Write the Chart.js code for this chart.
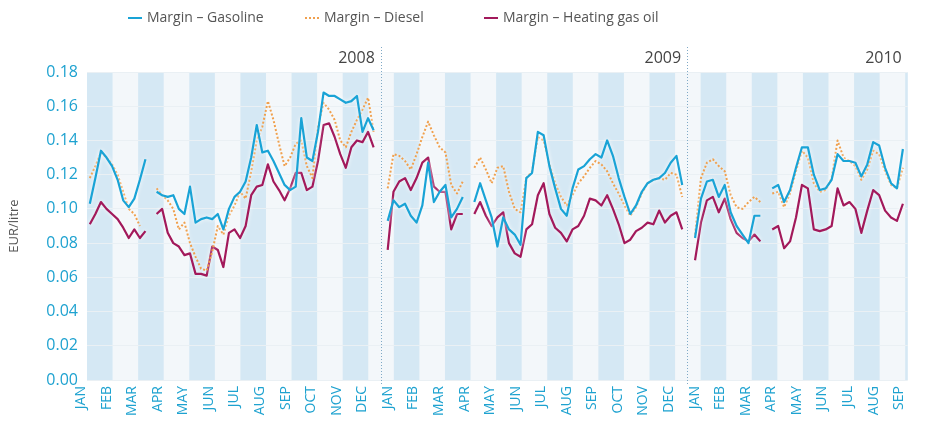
<!DOCTYPE html>
<html>
<head>
<meta charset="utf-8">
<script src="https://cdn.jsdelivr.net/npm/chart.js@4.4.1/dist/chart.umd.min.js"></script>
<style>
  body { margin: 0; background: #fff; }
  #chart { display: block; }
</style>
</head>
<body>
<canvas id="chart" width="928" height="431"></canvas>
<script>
/* month tick labels and year markers */
const months = ['JAN', 'FEB', 'MAR', 'APR', 'MAY', 'JUN', 'JUL', 'AUG', 'SEP', 'OCT', 'NOV', 'DEC'];
const years = ['2008', '2009', '2010'];
const seriesNames = ['Margin \u2013 Gasoline', 'Margin \u2013 Diesel', 'Margin \u2013 Heating gas oil'];
const yTicks = [0, 0.02, 0.04, 0.06, 0.08, 0.10, 0.12, 0.14, 0.16, 0.18];

/* weekly margins, EUR/litre (null = no quote) */
const gasoline2008 = [0.103,0.118,0.134,0.130,0.125,0.117,0.105,0.101,0.106,0.117,0.129,null,0.110,0.108,0.107,0.108,0.100,0.097,0.113,0.092,0.094,0.095,0.094,0.097,0.088,0.100,0.107,0.110,0.116,0.130,0.149,0.133,0.134,0.128,0.121,0.114,0.111,0.113,0.153,0.130,0.128,0.145,0.168,0.166,0.166,0.164,0.162,0.163,0.166,0.145,0.153,0.146];
const diesel2008 = [0.118,0.125,0.133,0.130,0.126,0.120,0.110,0.100,0.097,0.090,null,null,0.112,0.108,0.105,0.100,0.088,0.092,0.080,0.072,0.065,0.064,0.075,0.090,0.085,0.096,0.102,0.110,0.106,0.122,0.140,0.148,0.163,0.152,0.138,0.125,0.130,0.138,0.140,0.125,0.118,0.148,0.162,0.158,0.152,0.140,0.136,0.145,0.152,0.158,0.165,0.145];
const heating2008 = [0.091,0.097,0.104,0.100,0.097,0.094,0.089,0.083,0.088,0.083,0.087,null,0.097,0.100,0.086,0.080,0.078,0.073,0.074,0.062,0.062,0.061,0.078,0.076,0.066,0.086,0.088,0.083,0.090,0.108,0.113,0.114,0.126,0.116,0.111,0.105,0.112,0.121,0.121,0.111,0.113,0.128,0.149,0.150,0.142,0.132,0.124,0.136,0.140,0.139,0.145,0.136];

const gasoline2009 = [0.093,0.105,0.101,0.103,0.096,0.092,0.102,0.127,0.104,0.110,0.114,0.095,0.100,0.107,null,0.104,0.115,0.105,0.095,0.078,0.095,0.088,0.085,0.079,0.118,0.121,0.145,0.143,0.125,0.112,0.100,0.096,0.112,0.123,0.125,0.129,0.132,0.130,0.140,0.131,0.118,0.107,0.097,0.102,0.110,0.115,0.117,0.118,0.121,0.127,0.131,0.114];
const diesel2009 = [0.112,0.132,0.131,0.128,0.123,0.132,0.142,0.151,0.143,0.136,0.133,0.114,0.109,0.116,null,0.124,0.130,0.123,0.115,0.124,0.125,0.110,0.100,0.098,0.118,0.122,0.142,0.140,0.126,0.115,0.107,0.102,0.108,0.115,0.119,0.124,0.128,0.126,0.122,0.115,0.109,0.102,0.096,0.101,0.109,0.115,0.117,0.118,0.117,0.121,0.120,0.107];
const heating2009 = [0.076,0.110,0.116,0.118,0.111,0.118,0.127,0.130,0.113,0.110,0.110,0.088,0.097,0.097,null,0.097,0.104,0.096,0.090,0.095,0.098,0.080,0.074,0.072,0.088,0.091,0.108,0.115,0.097,0.089,0.086,0.081,0.088,0.090,0.096,0.106,0.105,0.102,0.108,0.100,0.091,0.080,0.082,0.087,0.089,0.092,0.091,0.099,0.092,0.096,0.098,0.088];

const gasoline2010 = [0.083,0.106,0.116,0.117,0.107,0.114,0.098,0.090,0.085,0.080,0.096,0.096,null,0.112,0.114,0.104,0.111,0.124,0.136,0.136,0.120,0.111,0.112,0.117,0.132,0.128,0.128,0.127,0.119,0.126,0.139,0.137,0.124,0.115,0.112,0.135];
const diesel2010 = [0.085,0.118,0.127,0.129,0.125,0.122,0.108,0.101,0.100,0.104,0.107,0.104,null,0.109,0.110,0.101,0.109,0.122,0.134,0.130,0.115,0.110,0.111,0.118,0.140,0.130,0.128,0.125,0.117,0.123,0.134,0.132,0.122,0.114,0.112,0.124];
const heating2010 = [0.070,0.092,0.105,0.107,0.098,0.106,0.094,0.086,0.083,0.081,0.085,0.081,null,0.088,0.090,0.077,0.081,0.095,0.114,0.112,0.088,0.087,0.088,0.090,0.112,0.102,0.104,0.100,0.086,0.099,0.111,0.108,0.099,0.095,0.093,0.103];

/* layout of the weekly points on the month axis (in months from JAN 2008) */
const yearSpan = [[0.11, 11.21], [11.76, 23.28], [23.78, 31.91]];
const yearDivider = [11.49, 23.47, 32.1];
const xMax = 32.1;

const colors = ['#19a3d6', '#f0a04e', '#a2195b'];

function buildPoints(perYear) {
    var pts = [];
    perYear.forEach(function (vals, k) {
        var a = yearSpan[k][0], b = yearSpan[k][1];
        var step = (b - a) / (vals.length - 1);
        vals.forEach(function (v, i) {
            pts.push({x: a + i * step, y: v});
        });
        pts.push({x: b + step / 2, y: null});
    });
    return pts;
}

/* light blue band on every other month */
const monthBands = {
    id: 'monthBands',
    beforeDraw: function (chart) {
        var ctx = chart.ctx, area = chart.chartArea, xs = chart.scales.x;
        ctx.save();
        ctx.fillStyle = '#f3f7fa';
        ctx.fillRect(area.left, area.top, area.right - area.left, area.bottom - area.top);
        ctx.fillStyle = '#d5e8f4';
        for (var m = 0; m <= Math.ceil(xMax); m += 2) {
            var x0 = Math.max(xs.getPixelForValue(m), area.left);
            var x1 = Math.min(xs.getPixelForValue(m + 1), area.right);
            if (x1 > x0) ctx.fillRect(x0, area.top, x1 - x0, area.bottom - area.top);
        }
        ctx.restore();
    }
};

/* dotted year separators + year labels */
const yearMarks = {
    id: 'yearMarks',
    beforeDatasetsDraw: function (chart) {
        var ctx = chart.ctx, area = chart.chartArea, xs = chart.scales.x;
        ctx.save();
        ctx.strokeStyle = '#7fa9c6';
        ctx.lineWidth = 1;
        ctx.setLineDash([1, 2]);
        for (var k = 0; k < yearDivider.length - 1; k++) {
            var x = Math.round(xs.getPixelForValue(yearDivider[k])) + 0.5;
            ctx.beginPath();
            ctx.moveTo(x, 47);
            ctx.lineTo(x, area.bottom + 4);
            ctx.stroke();
        }
        ctx.setLineDash([]);
        ctx.fillStyle = '#444';
        ctx.font = '16px "Open Sans"';
        ctx.textAlign = 'right';
        ctx.textBaseline = 'middle';
        years.forEach(function (y, k) {
            var x = Math.min(xs.getPixelForValue(yearDivider[k]), area.right) - 6;
            ctx.fillText(y, x, 58);
        });
        ctx.restore();
    },
    beforeDatasetDraw: function (chart) {
        chart.ctx.save();
        chart.ctx.shadowColor = 'rgba(255,255,255,0.95)';
        chart.ctx.shadowBlur = 4;
    },
    afterDatasetDraw: function (chart) {
        chart.ctx.restore();
    }
};

/* legend line at the top, placed like the print original */
const legendX = [128, 305, 484];
const topLegend = {
    id: 'topLegend',
    afterDraw: function (chart) {
        var ctx = chart.ctx;
        ctx.save();
        ctx.font = '14px "Open Sans"';
        ctx.textBaseline = 'middle';
        ctx.textAlign = 'left';
        chart.data.datasets.forEach(function (ds, i) {
            var x = legendX[i], y = 18;
            ctx.strokeStyle = ds.borderColor;
            ctx.lineWidth = 2;
            ctx.setLineDash(ds.borderDash || []);
            ctx.beginPath();
            ctx.moveTo(x, y);
            ctx.lineTo(x + 14, y);
            ctx.stroke();
            ctx.setLineDash([]);
            ctx.fillStyle = '#555';
            ctx.fillText(ds.label, x + 19, y);
        });
        ctx.restore();
    }
};

new Chart(document.getElementById('chart'), {
    type: 'line',
    data: {
        datasets: [
            {label: seriesNames[0], data: buildPoints([gasoline2008, gasoline2009, gasoline2010]),
             borderColor: colors[0], borderWidth: 2.2},
            {label: seriesNames[1], data: buildPoints([diesel2008, diesel2009, diesel2010]),
             borderColor: colors[1], borderWidth: 2, borderDash: [2, 2]},
            {label: seriesNames[2], data: buildPoints([heating2008, heating2009, heating2010]),
             borderColor: colors[2], borderWidth: 2.2}
        ]
    },
    options: {
        responsive: false,
        animation: false,
        devicePixelRatio: 1,
        spanGaps: false,
        elements: {point: {radius: 0}, line: {tension: 0, borderJoinStyle: 'round'}},
        layout: {padding: {top: 72, right: 0, left: 0, bottom: 0}},
        plugins: {legend: {display: false}, tooltip: {enabled: false}},
        scales: {
            x: {
                type: 'linear',
                min: 0,
                max: xMax,
                grid: {display: false, drawTicks: false},
                border: {display: false},
                afterFit: function (s) { s.height = 51; },
                ticks: {
                    stepSize: 1,
                    includeBounds: false,
                    autoSkip: false,
                    minRotation: 90,
                    maxRotation: 90,
                    padding: 6,
                    labelOffset: -6,
                    color: '#1ea2d0',
                    font: {family: '"Open Sans"', size: 14},
                    callback: function (v) {
                        return Number.isInteger(v) ? months[v % 12] : '';
                    }
                }
            },
            y: {
                min: 0,
                max: 0.18,
                afterFit: function (s) { s.width = 87; },
                afterBuildTicks: function (s) { s.ticks = yTicks.map(function (v) { return {value: v}; }); },
                grid: {color: '#eaf0f4', drawTicks: false},
                border: {display: false},
                ticks: {
                    padding: 9,
                    color: '#1ea2d0',
                    font: {family: '"Open Sans"', size: 16},
                    callback: function (v) { return v.toFixed(2); }
                },
                title: {
                    display: true,
                    text: 'EUR/litre',
                    color: '#555',
                    font: {family: '"Open Sans"', size: 13},
                    padding: {top: 6, bottom: 0}
                }
            }
        }
    },
    plugins: [monthBands, yearMarks, topLegend]
});
</script>
</body>
</html>
